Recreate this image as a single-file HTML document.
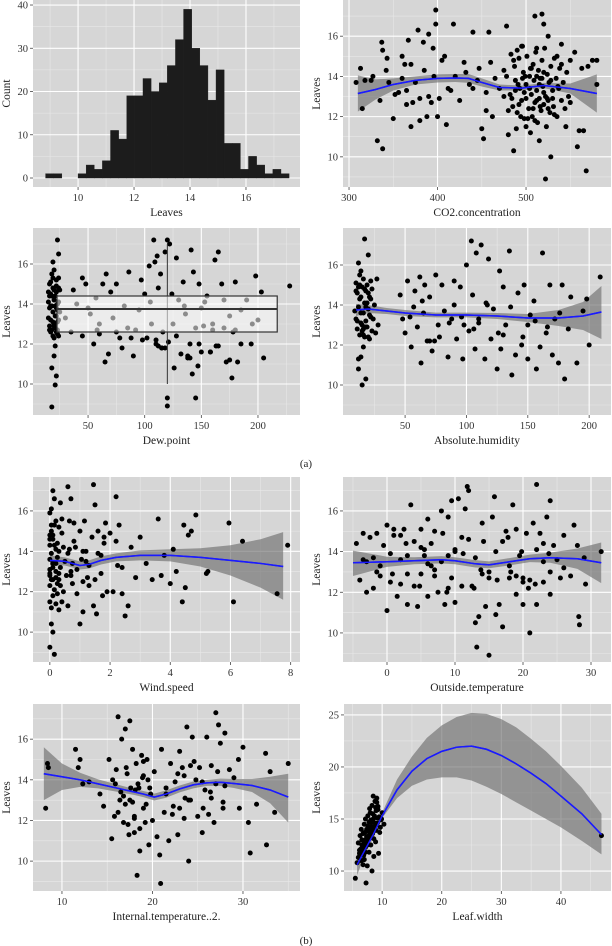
<!DOCTYPE html>
<html><head><meta charset="utf-8">
<style>
html,body{margin:0;padding:0;background:#fff;}
svg{display:block;font-family:"Liberation Serif",serif;}
</style></head>
<body>
<svg id="fig" width="612" height="946" viewBox="0 0 612 946" xmlns="http://www.w3.org/2000/svg">
<text x="306" y="467" font-size="11" text-anchor="middle" fill="#222">(a)</text>
<text x="306" y="944" font-size="11" text-anchor="middle" fill="#222">(b)</text>
</svg>
<script>
// ---- Panel 1 histogram data ----
const histStart = 8.84;
const histBinWidth = 0.29;
const histCounts = [1,1,0,0,1,3,2,4,11,9,19,19,23,20,22,26,32,39,30,26,18,25,8,8,2,5,3,1,2,1];
const histXTicks = [10,12,14,16];
const histYTicks = [0,10,20,30,40];

// ---- Panel 2 CO2 ----
const co2X = [308,313,315,318,325,327,332,335,337,338,338,342,343,345,350,356,360,363,365,367,370,372,378,380,384,388,390,395,398,398,400,405,408,410,412,418,425,430,440,440,447,450,452,455,458,460,462,470,475,478,480,486,490,495,500,505,510,512,515,518,520,522,525,528,535,540,545,550,555,558,560,563,565,568,570,575,580,580,
482,485,487,488,490,492,493,495,497,498,500,501,503,504,506,507,508,509,510,511,512,513,514,515,516,517,518,519,520,521,522,523,524,525,526,527,528,530,531,532,534,535,537,538,540,542,544,546,548,550,475,478,480,483,486,489,491,494,496,499,
352,360,365,370,375,380,385,390,393,396,402,415,420,432,436,445,455,465,
484,488,492,496,500,504,508,512,516,520,524,528,532,536,540,505,510,515,520,525,530,498,502,506,512,518];
const co2Y = [13.7,14.4,12.4,13.8,13.8,14,10.8,12.8,15.7,10.4,15.3,14.3,14.9,13.7,11.9,13.2,15,14.6,12.6,15.8,11.5,12.7,16.3,11.8,15.7,12,16.1,15.4,17.3,16.6,12,14.8,15,11.6,13.4,16.6,12.8,14.7,16.2,13.4,14.4,11.4,10.9,12.3,16.2,14.7,12,13.4,14.3,16.5,11.1,10.3,15.3,15.5,11.5,11.2,17,15.4,10.8,17.1,16.6,8.9,16,10,15,15.6,11.5,14.8,15.2,10.5,11.3,14.4,11.3,9.3,14.5,14.8,14.8,13.6,
13.1,12.5,14.5,13.8,12.2,14.9,13.4,12.8,14.2,11.9,13.6,15.0,12.4,14.0,13.1,12.0,14.6,13.8,12.7,15.2,13.3,11.7,14.3,12.9,13.9,12.3,14.8,13.5,12.6,15.4,13.0,11.5,14.1,12.8,13.7,12.2,14.5,13.3,12.5,14.9,13.9,12.0,13.4,14.4,12.8,13.7,12.4,14.2,13.0,12.7,13.0,14.0,12.3,15.1,14.8,11.4,13.6,12.0,15.5,14.0,
13.1,13.9,13.3,14.6,13.7,12.9,14.3,13.0,12.7,14.0,12.9,13.3,14.0,14.2,13.6,13.8,13.2,13.9,
12.9,13.3,12.6,13.9,12.9,13.4,12.4,14.0,12.5,13.2,12.9,13.8,12.1,13.5,14.6,14.4,11.8,13.6,14.2,12.4,12.9,13.2,11.9,14.4,12.8,13.9];
const co2SmX = [310,330,350,375,400,420,435,450,470,495,520,550,580];
const co2SmY = [13.15,13.35,13.6,13.8,13.9,13.92,13.9,13.7,13.45,13.42,13.55,13.4,13.15];
const co2SmLo = [12.25,12.85,13.3,13.6,13.7,13.72,13.68,13.5,13.3,13.3,13.42,13.15,12.2];
const co2SmHi = [14.05,13.85,13.9,14.0,14.1,14.12,14.12,13.9,13.6,13.54,13.68,13.65,14.1];

// ---- Panel 3 Dew point ----
const dewX = [15,15,16,16,17,17,17,18,18,18,19,19,19,19,20,20,20,20,21,21,21,21,22,22,22,22,23,23,23,24,24,24,24,25,25,18,16,20,22,23,
30,35,37,45,48,50,55,57,60,63,65,66,68,70,75,78,80,82,86,90,92,97,100,102,104,106,108,109,110,111,112,114,115,116,118,120,120,120,121,122,124,126,128,130,132,134,136,138,140,141,142,143,145,147,148,150,152,155,158,160,162,163,165,168,170,172,175,177,178,180,182,185,190,194,198,200,203,205,228,
40,52,58,72,85,95,105,125,135,145,153,160,170,185,195,
15,16,17,18,19,20,21,22,23,24,17,19,21,23,16,18,20,22,24,
45,60,75,88,98,112,118,128,138,148,158,165,175,180,110,115,140,150];
const dewY = [13.3,14.1,13.8,12.9,15.1,14.5,12.6,8.85,15.5,10.8,13.6,14.8,12.4,16.1,14.2,13.0,11.4,15.7,9.95,13.9,12.8,11.9,14.6,15.2,13.4,10.4,17.2,12.7,14.0,16.5,15.3,13.2,12.4,14.7,13.6,14.4,12.7,12.3,14.9,13.1,
13.3,12.6,14.7,15.3,15.0,13.8,12.0,14.3,13.0,15.0,11.1,15.5,11.5,14.6,15.0,12.3,11.8,13.9,15.6,11.4,12.7,15.2,14.5,12.3,15.9,13.0,17.2,16.1,12.0,16.4,14.8,15.5,11.8,12.6,16.6,17.2,9.3,8.9,12.1,17.0,14.5,10.8,16.3,14.2,11.5,15.1,13.5,11.3,12.0,16.7,10.5,15.6,9.3,10.9,15.0,13.8,12.9,14.4,11.6,13.0,16.2,11.9,16.6,15.0,12.8,11.1,13.4,10.3,12.6,15.1,11.1,12.0,14.2,12.0,15.4,13.2,14.6,11.3,14.9,
14.0,13.5,12.7,13.3,12.8,13.7,14.1,13.0,13.9,12.8,14.1,12.7,14.2,13.7,13.0,
14.6,15.0,13.2,12.7,13.1,14.7,14.4,12.6,13.7,14.1,13.9,15.3,13.4,12.5,14.4,13.9,12.9,13.8,14.8,
12.4,12.5,12.6,12.3,12.2,11.9,11.8,12.4,11.4,12.0,11.6,11.9,11.2,12.7,12.2,11.8,11.3,11.6];
const dewBox = [22.6,217,12.6,13.75,14.4,120,10.0,17.0];

// ---- Panel 4 Absolute humidity ----
const ahX = [9,10,10,11,11,12,12,12,13,13,13,14,14,14,15,15,15,16,16,16,17,17,17,18,18,18,19,19,20,20,21,21,22,22,23,24,25,26,27,28,
46,48,50,52,55,57,58,60,62,63,65,66,68,70,72,75,77,78,80,82,85,88,90,92,95,97,98,100,102,104,105,107,108,110,112,115,117,118,120,122,125,127,128,130,132,135,137,140,142,145,147,150,152,155,157,160,162,165,168,170,172,175,178,180,183,185,190,195,198,200,209,
10,11,12,13,14,15,16,17,18,19,20,21,22,23,12,14,16,18,20,
54,64,74,86,96,106,116,126,136,146,156,166,176,70,90,110,130,150];
const ahY = [13.7,15.1,13.3,14.6,12.8,16.1,13.9,10.8,15.5,12.5,14.3,15.7,13.1,11.4,14.9,12.7,10.0,15.3,13.6,11.9,17.3,14.1,12.4,14.7,13.2,10.3,15.0,12.9,16.5,13.8,14.4,12.3,15.2,13.4,14.8,13.3,14.0,12.6,15.3,13.0,
14.5,13.3,12.6,15.2,11.9,13.9,14.7,12.9,15.4,11.1,13.6,15.0,12.2,14.4,11.7,15.5,13.0,12.4,15.0,13.7,11.4,13.3,15.2,12.3,14.9,11.3,13.0,16.0,12.7,17.2,14.5,11.8,16.6,13.3,17.0,11.3,14.0,16.3,12.3,13.8,10.8,15.7,11.8,14.9,13.0,16.7,10.5,11.5,14.6,12.0,15.0,11.3,13.5,14.2,10.8,11.9,16.6,12.6,15.0,11.5,13.3,11.1,15.0,10.3,12.8,14.4,11.1,13.7,14.3,12.0,15.4,14.7,13.2,11.3,15.0,
14.4,13.0,12.5,14.8,12.9,14.1,12.4,13.5,14.3,12.7,14.9,13.6,12.8,13.9,14.6,13.4,14.2,12.2,13.1,
13.4,12.8,14.1,12.6,13.9,12.4,13.2,12.9,13.6,12.2,14.0,13.1,12.5,13.0,14.2,12.7,13.8,13.3];
const ahSmX = [10,20,35,50,75,100,125,150,175,195,210];
const ahSmY = [13.75,13.8,13.7,13.6,13.5,13.5,13.45,13.35,13.35,13.45,13.65];
const ahSmLo = [13.45,13.6,13.55,13.45,13.38,13.38,13.3,13.15,12.95,12.75,12.3];
const ahSmHi = [14.05,14.0,13.85,13.75,13.62,13.62,13.6,13.55,13.75,14.15,14.95];

// ---- Panel 5 Wind speed ----
const wsX = [0,0,0,0,0,0,0,0,0,0.05,0.05,0.05,0.05,0.05,0.1,0.1,0.1,0.1,0.1,0.1,0.15,0.15,0.15,0.15,0.2,0.2,0.2,0.2,0.25,0.25,0.25,0.3,0.3,0.3,0.35,0.35,0.4,0.4,0.45,0.5,
0.6,0.6,0.65,0.7,0.7,0.75,0.8,0.85,0.9,1.0,1.0,1.05,1.1,1.1,1.15,1.2,1.25,1.3,1.4,1.45,1.45,1.5,1.5,1.55,1.6,1.7,1.75,1.8,1.85,1.9,2.0,2.1,2.2,2.25,2.3,2.4,2.5,2.6,2.7,2.85,3.0,3.2,3.4,3.6,3.7,3.8,4.0,4.1,4.2,4.4,4.45,4.5,4.6,4.7,4.85,5.2,5.25,5.95,6.1,6.4,7.55,7.9,
0,0,0.05,0.1,0.15,0.2,0.25,0.3,0.35,0.05,0.1,0.2,0.3,0.6,0.7,0.8,0.9,1.1,1.2,1.3,1.6,1.7,1.8,0.65,0.75,0.4,2.2,2.4,0.55,0.45];
const wsY = [15.9,14.3,13.1,11.5,12.3,14.8,13.6,12.8,9.25,16.1,13.9,11.2,15.0,10.4,17.0,14.6,12.6,11.8,13.4,10.0,16.6,15.3,12.1,8.9,14.1,13.0,11.4,15.5,12.4,14.4,13.7,11.1,15.2,12.9,16.4,13.2,14.9,11.5,12.0,13.5,
17.2,11.3,15.5,16.6,13.0,12.4,15.4,14.2,11.9,10.4,15.0,13.6,11.0,12.5,15.5,14.0,12.7,13.3,14.7,17.3,11.3,16.3,12.6,10.9,15.0,13.8,11.8,14.4,15.4,12.0,14.9,12.0,16.7,13.3,15.3,11.9,10.8,11.3,14.2,12.7,14.7,13.4,12.6,15.6,12.8,13.8,12.4,14.1,13.0,11.5,15.3,12.2,14.8,15.0,15.8,12.9,13.0,15.4,11.5,14.5,11.9,14.3,
12.9,14.6,12.6,13.2,14.3,12.7,11.9,14.0,12.3,15.3,14.8,13.4,12.6,13.9,12.8,14.5,13.1,14.0,13.5,12.3,13.9,12.9,14.7,14.1,13.4,15.6,14.5,13.2,12.8,14.2];
const wsSmX = [0,0.5,1.0,1.3,1.7,2.2,3,4,5,6,7,7.75];
const wsSmY = [13.55,13.5,13.3,13.35,13.55,13.7,13.8,13.8,13.7,13.55,13.4,13.25];
const wsSmLo = [13.3,13.3,13.1,13.15,13.35,13.5,13.55,13.5,13.25,12.8,12.2,11.6];
const wsSmHi = [13.8,13.7,13.5,13.55,13.75,13.9,14.05,14.1,14.15,14.3,14.6,14.95];

// ---- Panel 6 Outside temperature ----
const otX = [-4.5,-4,-3.5,-3,-3,-2.5,-2,-1.5,-1,-1,-0.5,0,0,0.5,0.5,1,1.5,2,2,2.5,3,3,3.5,4,4,4.5,5,5,5.5,6,6,6.5,7,7,7.5,8,8,8.5,9,9,9.5,10,10,10.5,11,11,11.5,11.8,12,12.5,13,13,13.2,13.5,14,14.5,15,15,15.5,15.8,16,16.5,17,17,17.5,18,18.5,19,19,19.5,20,20,20.5,21,21,21.5,22,22,22.5,23,23,23.5,24,24,24.5,25,26,27,27.5,28,28.2,28.3,29,29.2,31.5,
1,3,5,7,9,12,14,16,18,20,22,24,26,2,6,10,15,19,23,-2,
-3.5,-1.5,0.8,2.8,4.8,6.5,8.2,9.5,11.2,12.8,14.2,16.2,18.2,19.8,21.8,23.8,25.5,5.5,8.8,13.8,17.8,20.8];
const otY = [14.4,12.6,14.9,12.0,13.5,14.7,12.2,14.9,13.3,12.8,14.3,11.1,15.3,12.5,13.9,15.1,11.8,14.8,12.4,15.1,13.8,11.4,16.3,12.3,14.5,11.3,15.1,12.9,13.8,15.6,11.8,14.4,12.8,15.0,12.0,16.0,13.5,11.4,15.7,12.2,16.5,14.0,11.5,16.6,12.3,14.7,16.1,17.2,17.0,12.3,10.5,13.7,9.3,10.8,15.4,11.3,8.9,12.7,15.7,16.7,10.9,11.4,14.5,10.3,15.0,12.7,16.3,11.9,15.1,13.8,12.7,11.4,14.9,10.0,12.6,15.4,17.3,11.4,14.9,13.5,12.5,15.7,16.5,11.9,14.3,13.6,14.8,12.8,15.3,14.3,10.8,10.4,13.7,12.4,14.0,14.8,
12.9,14.2,13.1,13.8,14.6,12.9,14.0,13.3,12.5,14.1,13.0,13.2,13.6,13.4,14.1,13.0,12.8,14.4,13.7,13.6,
13.0,12.9,14.4,12.3,13.3,14.9,12.7,13.9,12.2,14.5,12.6,13.0,14.0,12.4,13.9,12.7,14.1,12.0,13.1,14.7,12.2,13.5];
const otSmX = [-5,0,4,8,10,13,15,18,21,24,28,31.5];
const otSmY = [13.45,13.5,13.55,13.6,13.55,13.4,13.35,13.5,13.65,13.7,13.65,13.45];
const otSmLo = [12.8,13.25,13.38,13.42,13.38,13.22,13.18,13.32,13.48,13.45,13.15,12.45];
const otSmHi = [14.05,13.75,13.72,13.78,13.72,13.58,13.52,13.68,13.85,13.95,14.15,14.45];

// ---- Panel 7 Internal temperature ----
const itX = [8.2,8.4,8.5,11.5,11.8,12.0,12.3,13.0,14.2,14.6,15.2,15.5,15.6,15.8,16.0,16.2,16.4,16.6,16.8,17.0,17.0,17.2,17.4,17.5,17.6,17.8,18.0,18.0,18.2,18.3,18.4,18.6,18.8,19.0,19.0,19.2,19.4,19.6,19.8,20.0,20.2,20.5,20.8,20.9,21.0,21.3,21.5,21.8,22.0,22.2,22.5,22.8,23.0,23.0,23.3,23.5,23.8,24.0,24.2,24.4,24.6,25.0,25.2,25.5,25.8,26.0,26.2,26.5,26.8,27.0,27.0,27.3,27.5,27.8,28.0,28.5,29.0,29.5,29.6,30.0,30.6,30.8,31.5,32.5,32.6,33.0,33.5,35.0,
17.5,18.5,19.5,21.5,23.5,25.5,26.5,28.0,16.5,24.0,
16.2,16.8,17.3,17.8,18.1,18.6,18.9,19.3,19.7,17.1,18.0,19.0,15.9,22.8,23.6,24.8,25.6,26.4,27.2,27.8,22.3,24.2];
const itY = [12.6,14.8,14.6,15.5,14.6,15.0,13.8,13.9,13.3,12.7,15.0,11.1,14.0,12.2,14.5,17.1,13.0,16.0,11.9,12.8,16.5,14.3,11.3,16.9,13.6,15.5,12.2,11.4,14.8,9.3,13.8,10.5,15.2,12.6,14.2,11.9,15.0,10.8,13.3,12.0,14.4,11.2,10.3,8.9,15.5,12.4,13.6,11.0,14.8,12.3,13.9,11.3,15.4,12.6,14.6,12.1,16.6,10.0,13.0,16.1,14.9,12.2,14.6,11.4,13.5,16.1,12.3,14.7,11.9,17.3,13.8,16.7,15.8,12.6,16.3,14.5,14.1,15.0,12.6,15.6,11.9,10.4,12.8,15.3,10.8,14.4,12.4,14.8,
13.0,13.6,14.0,13.3,14.2,13.9,13.1,13.7,13.4,13.0,
12.4,13.2,11.8,12.9,13.5,11.6,14.1,12.8,13.6,14.6,12.1,14.9,13.8,14.3,13.1,14.0,12.6,13.4,14.4,12.9,12.7,14.7];
const itSmX = [8,10,12,14,16,18,19,20.2,21.5,23,24.5,26,27.5,29,31,33,35];
const itSmY = [14.3,14.15,14.0,13.8,13.6,13.4,13.3,13.15,13.3,13.55,13.75,13.85,13.88,13.82,13.72,13.5,13.15];
const itSmLo = [13.0,13.5,13.65,13.58,13.42,13.25,13.15,12.98,13.12,13.38,13.58,13.7,13.7,13.6,13.4,12.85,11.9];
const itSmHi = [15.6,14.8,14.35,14.02,13.78,13.55,13.45,13.32,13.48,13.72,13.92,14.0,14.06,14.04,14.04,14.15,14.3];

// ---- Panel 8 Leaf width ----
const lwX = [5.5,5.8,6.0,6.0,6.2,6.3,6.5,6.5,6.6,6.8,6.8,7.0,7.0,7.0,7.2,7.2,7.3,7.4,7.5,7.5,7.6,7.7,7.8,7.8,7.9,8.0,8.0,8.1,8.2,8.3,8.3,8.4,8.5,8.5,8.6,8.7,8.8,8.9,9.0,9.0,9.1,9.2,9.3,9.5,9.6,9.8,10.0,10.3,7.2,7.5,6.7,6.9,8.6,9.4,46.8,
6.4,6.6,6.9,7.1,7.3,7.6,7.8,8.1,8.4,8.7,9.0,9.3,6.2,6.8,7.4,7.9,8.3,8.8,9.2,9.7,7.0,7.6,8.2,8.9,6.5,7.2,8.0,8.5,9.1,9.9];
const lwY = [9.3,10.8,11.3,12.7,12.0,13.4,11.0,14.0,12.5,13.6,10.6,14.5,12.2,11.1,15.0,13.0,8.85,14.0,12.5,10.5,15.3,13.8,14.7,11.8,16.0,13.2,15.6,12.5,14.3,16.3,10.0,13.6,17.2,15.0,11.4,14.2,16.7,12.8,15.8,13.9,17.0,14.6,16.2,15.2,13.7,14.9,15.6,14.5,11.8,12.9,12.0,11.5,13.1,11.7,13.4,
12.1,13.0,12.9,13.7,12.8,14.3,13.4,14.9,15.5,15.3,14.4,15.9,11.7,12.4,13.3,14.1,13.9,14.6,15.1,14.2,12.6,13.9,14.7,16.1,11.6,12.3,13.5,14.0,16.6,15.0];
const lwSmX = [5.8,7,8.5,10,12.5,15,17.5,20,22.5,25,27.5,30,32.5,35,37.5,40,43.5,46.8];
const lwSmY = [10.6,11.9,13.5,15.3,17.8,19.6,20.8,21.5,21.9,22.0,21.7,21.1,20.3,19.4,18.4,17.2,15.5,13.5];
const lwSmLo = [9.6,11.4,13.2,15.1,17.0,18.2,18.8,19.0,19.0,18.7,18.1,17.4,16.6,15.8,15.0,14.2,12.9,11.6];
const lwSmHi = [11.6,12.4,13.8,15.6,18.8,21.0,22.8,24.0,24.8,25.2,25.1,24.6,23.8,22.7,21.5,20.1,18.0,15.5];

const leavesTicks = [10,12,14,16];
const leavesMinor = [9,11,13,15,17];

const NS = "http://www.w3.org/2000/svg";
const svg = document.getElementById("fig");
function mk(tag, attrs, parent) {
  const e = document.createElementNS(NS, tag);
  for (const k in attrs) e.setAttribute(k, attrs[k]);
  (parent || svg).appendChild(e);
  return e;
}

function panel(o) {
  const g = mk("g", {});
  
  
  const sx = v => o.x0 + (v - o.xd[0]) / (o.xd[1] - o.xd[0]) * (o.x1 - o.x0);
  const sy = v => o.y1 - (v - o.yd[0]) / (o.yd[1] - o.yd[0]) * (o.y1 - o.y0);
  const bg = mk("rect", {x: o.x0, y: o.y0, width: o.x1 - o.x0, height: o.y1 - o.y0, fill: "#d6d6d6"}, g);
  
  
  o.xminor.forEach(v => { const X = sx(v); if (X > o.x0 && X < o.x1) mk("line", {x1: X, x2: X, y1: o.y0, y2: o.y1, stroke: "#e8e8e8", "stroke-width": 0.6}, g); });
  o.yminor.forEach(v => { const Y = sy(v); if (Y > o.y0 && Y < o.y1) mk("line", {x1: o.x0, x2: o.x1, y1: Y, y2: Y, stroke: "#e8e8e8", "stroke-width": 0.6}, g); });
  o.xticks.forEach(v => {
    const X = sx(v);
    mk("line", {x1: X, x2: X, y1: o.y0, y2: o.y1, stroke: "#fff", "stroke-width": 1.1}, g);
    mk("line", {x1: X, x2: X, y1: o.y1, y2: o.y1 + 3, stroke: "#444", "stroke-width": 0.8}, g);
    const t = mk("text", {x: X, y: o.y1 + 14, "font-size": 10.5, "text-anchor": "middle", fill: "#333"}, g);
    t.textContent = v;
    
    
  });
  o.yticks.forEach(v => {
    const Y = sy(v);
    mk("line", {x1: o.x0, x2: o.x1, y1: Y, y2: Y, stroke: "#fff", "stroke-width": 1.1}, g);
    mk("line", {x1: o.x0 - 3, x2: o.x0, y1: Y, y2: Y, stroke: "#444", "stroke-width": 0.8}, g);
    const t = mk("text", {x: o.x0 - 5, y: Y + 3.5, "font-size": 10.5, "text-anchor": "end", fill: "#333"}, g);
    t.textContent = v;
    
    
  });
  const xt = mk("text", {x: (o.x0 + o.x1) / 2, y: o.y1 + 29, "font-size": 11.5, "text-anchor": "middle", fill: "#222"}, g);
  xt.textContent = o.xlabel;
  
  
  const yx = o.ylabx, yy = (o.y0 + o.y1) / 2;
  const yt = mk("text", {x: yx, y: yy, "font-size": 11.5, "text-anchor": "middle", fill: "#222", transform: "rotate(-90 " + yx + " " + yy + ")"}, g);
  yt.textContent = o.ylabel;
  
  
  const clip = "clip-" + o.name;
  const cp = mk("clipPath", {id: clip}, g);
  mk("rect", {x: o.x0, y: o.y0, width: o.x1 - o.x0, height: o.y1 - o.y0}, cp);
  const d = mk("g", {"clip-path": "url(#" + clip + ")"}, g);
  return {g: d, sx, sy};
}

function scatter(p, xs, ys, name) {
  xs.forEach((x, i) => {
    const c = mk("circle", {cx: p.sx(x), cy: p.sy(ys[i]), r: 2.5, fill: "#000"}, p.g);
    
    
  });
}

function smooth(p, xs, ys, lo, hi, name) {
  let dd = "M" + xs.map((x, i) => p.sx(x) + "," + p.sy(hi[i])).join(" L");
  dd += " L" + xs.map((x, i) => p.sx(x) + "," + p.sy(lo[i])).reverse().join(" L") + " Z";
  const band = mk("path", {d: dd, fill: "#6e6e6e", "fill-opacity": 0.65}, p.g);
  
  
  const ln = mk("polyline", {points: xs.map((x, i) => p.sx(x) + "," + p.sy(ys[i])).join(" "), fill: "none", stroke: "#1a1aff", "stroke-width": 1.5}, p.g);
  
  
}

// Panel 1
{
  const p = panel({name: "histogram", x0: 33, x1: 300, y0: 0, y1: 187, xd: [8.39, 17.93], yd: [-2.08, 41.16],
    xticks: histXTicks, yticks: histYTicks, xminor: [9,11,13,15,17], yminor: [5,15,25,35],
    xlabel: "Leaves", ylabel: "Count", ylabx: 10});
  histCounts.forEach((c, i) => {
    if (c <= 0) return;
    const a = histStart + i * histBinWidth;
    const X0 = p.sx(a), X1 = p.sx(a + histBinWidth);
    const r = mk("rect", {x: X0, y: p.sy(c), width: X1 - X0, height: p.sy(0) - p.sy(c), fill: "#1c1c1c", stroke: "#1c1c1c", "stroke-width": 0.4}, p.g);
    
    
  });
}
// Panel 2
{
  const p = panel({name: "co2", x0: 343, x1: 611, y0: 0, y1: 187, xd: [293.2, 596], yd: [8.5, 17.8],
    xticks: [300,400,500], yticks: leavesTicks, xminor: [350,450,550], yminor: leavesMinor,
    xlabel: "CO2.concentration", ylabel: "Leaves", ylabx: 320});
  smooth(p, co2SmX, co2SmY, co2SmLo, co2SmHi, "co2");
  scatter(p, co2X, co2Y, "co2");
  smooth(p, co2SmX, co2SmY, co2SmY, co2SmY, "co2-line");
}
// Panel 3
{
  const p = panel({name: "dew-point", x0: 33, x1: 300, y0: 228, y1: 415, xd: [1.4, 237.1], yd: [8.45, 17.8],
    xticks: [50,100,150,200], yticks: leavesTicks, xminor: [25,75,125,175,225], yminor: leavesMinor,
    xlabel: "Dew.point", ylabel: "Leaves", ylabx: 10});
  scatter(p, dewX, dewY, "dew");
  const [bx0, bx1, q1, med, q3, wx, wlo, whi] = dewBox;
  const wl = mk("line", {x1: p.sx(wx), x2: p.sx(wx), y1: p.sy(whi), y2: p.sy(wlo), stroke: "#333", "stroke-width": 1}, p.g);
  
  
  const br = mk("rect", {x: p.sx(bx0), y: p.sy(q3), width: p.sx(bx1) - p.sx(bx0), height: p.sy(q1) - p.sy(q3), fill: "#fff", "fill-opacity": 0.55, stroke: "#333", "stroke-width": 1.2}, p.g);
  
  
  const ml = mk("line", {x1: p.sx(bx0), x2: p.sx(bx1), y1: p.sy(med), y2: p.sy(med), stroke: "#333", "stroke-width": 2}, p.g);
  
  
}
// Panel 4
{
  const p = panel({name: "absolute-humidity", x0: 343, x1: 611, y0: 228, y1: 415, xd: [-0.6, 217.8], yd: [8.5, 17.85],
    xticks: [50,100,150,200], yticks: leavesTicks, xminor: [25,75,125,175], yminor: leavesMinor,
    xlabel: "Absolute.humidity", ylabel: "Leaves", ylabx: 320});
  smooth(p, ahSmX, ahSmY, ahSmLo, ahSmHi, "ah");
  scatter(p, ahX, ahY, "ah");
  smooth(p, ahSmX, ahSmY, ahSmY, ahSmY, "ah-line");
}
// Panel 5
{
  const p = panel({name: "wind-speed", x0: 33, x1: 300, y0: 477, y1: 662, xd: [-0.56, 8.31], yd: [8.52, 17.68],
    xticks: [0,2,4,6,8], yticks: leavesTicks, xminor: [1,3,5,7], yminor: leavesMinor,
    xlabel: "Wind.speed", ylabel: "Leaves", ylabx: 10});
  smooth(p, wsSmX, wsSmY, wsSmLo, wsSmHi, "ws");
  scatter(p, wsX, wsY, "ws");
  smooth(p, wsSmX, wsSmY, wsSmY, wsSmY, "ws-line");
}
// Panel 6
{
  const p = panel({name: "outside-temperature", x0: 343, x1: 611, y0: 477, y1: 662, xd: [-6.47, 32.94], yd: [8.57, 17.67],
    xticks: [0,10,20,30], yticks: leavesTicks, xminor: [-5,5,15,25], yminor: leavesMinor,
    xlabel: "Outside.temperature", ylabel: "Leaves", ylabx: 320});
  smooth(p, otSmX, otSmY, otSmLo, otSmHi, "ot");
  scatter(p, otX, otY, "ot");
  smooth(p, otSmX, otSmY, otSmY, otSmY, "ot-line");
}
// Panel 7
{
  const p = panel({name: "internal-temperature", x0: 33, x1: 300, y0: 704, y1: 891, xd: [6.8, 36.3], yd: [8.53, 17.73],
    xticks: [10,20,30], yticks: leavesTicks, xminor: [15,25,35], yminor: leavesMinor,
    xlabel: "Internal.temperature..2.", ylabel: "Leaves", ylabx: 10});
  smooth(p, itSmX, itSmY, itSmLo, itSmHi, "it");
  scatter(p, itX, itY, "it");
  smooth(p, itSmX, itSmY, itSmY, itSmY, "it-line");
}
// Panel 8
{
  const p = panel({name: "leaf-width", x0: 344, x1: 611, y0: 704, y1: 891, xd: [3.6, 48.4], yd: [8.08, 26.05],
    xticks: [10,20,30,40], yticks: [10,15,20,25], xminor: [5,15,25,35,45], yminor: [12.5,17.5,22.5],
    xlabel: "Leaf.width", ylabel: "Leaves", ylabx: 320});
  smooth(p, lwSmX, lwSmY, lwSmLo, lwSmHi, "lw");
  scatter(p, lwX, lwY, "lw");
  smooth(p, lwSmX, lwSmY, lwSmY, lwSmY, "lw-line");
}
</script>
</body></html>
